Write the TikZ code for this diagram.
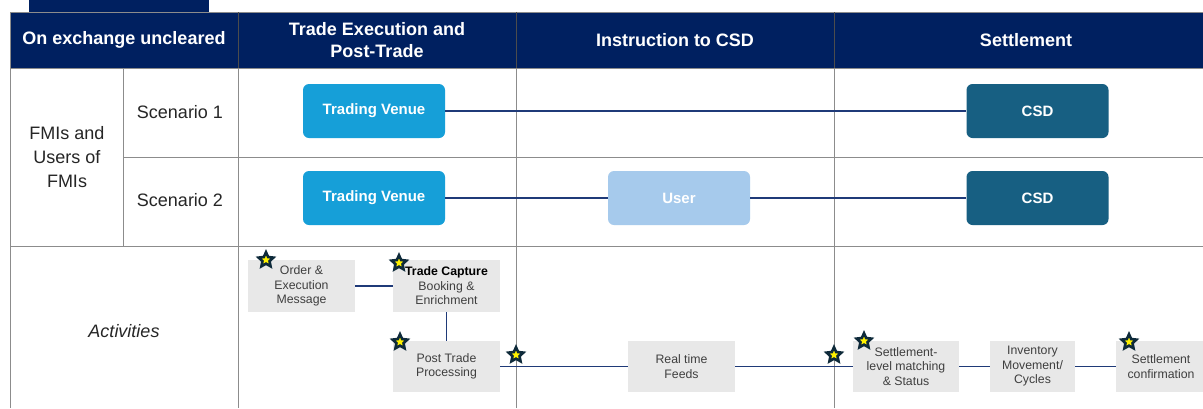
\documentclass[tikz,border=0pt]{standalone}
\usepackage{fontspec}
\setmainfont{Liberation Sans}
\usetikzlibrary{shapes.geometric}
\definecolor{navy}{HTML}{002060}
\definecolor{tvblue}{HTML}{169FD8}
\definecolor{csdblue}{HTML}{175F82}
\definecolor{userblue}{HTML}{A6CAEC}
\definecolor{actgray}{HTML}{E8E8E8}
\definecolor{conncol}{HTML}{1F3A78}
\definecolor{gridcol}{HTML}{8C8C8C}
\definecolor{stardark}{HTML}{0E2A3A}
\definecolor{acttext}{HTML}{3F3F3F}
\tikzset{
  hdr/.style={text=white, font=\fontsize{18}{22}\selectfont\bfseries, align=center},
  lbl/.style={text=black!85, font=\fontsize{18}{24}\selectfont, align=center},
  fmi/.style={rounded corners=6pt, minimum width=142pt, minimum height=54pt, inner sep=0pt,
     text=white, font=\fontsize{15}{17}\selectfont\bfseries},
  act/.style={fill=actgray, minimum width=107pt, minimum height=51pt, inner sep=0pt,
     text=acttext, align=center, font=\fontsize{12.3}{14.5}\selectfont},
  conn/.style={draw=conncol, line width=1.8pt},
  grid/.style={draw=gridcol, line width=0.9pt},
  starm/.style={star, star points=5, star point ratio=2.1, fill=yellow, draw=stardark,
     line width=2.6pt, minimum size=15.5pt, inner sep=0pt},
}
\begin{document}
\begin{tikzpicture}[x=1pt, y=-1pt]
\clip (0,0) rectangle (1203,408);
\fill[white] (0,0) rectangle (1203,408);
% top tab and header
\fill[navy] (29,0) rectangle (209,12);
\fill[navy] (10,12) rectangle (1215,68);
\draw[gridcol, line width=0.9pt] (10,12) -- (1215,12);
\draw[gridcol, line width=0.9pt] (10,68) -- (1215,68);
% grid
\draw[grid] (10,12) -- (10,408);
\draw[grid] (238,68) -- (238,408);
\draw[grid] (516,68) -- (516,408);
\draw[grid] (834,68) -- (834,408);
\draw[black!70, line width=0.7pt] (238,12) -- (238,68);
\draw[black!70, line width=0.7pt] (516,12) -- (516,68);
\draw[black!70, line width=0.7pt] (834,12) -- (834,68);
\draw[grid] (123,68) -- (123,246);
\draw[grid] (123,157) -- (1215,157);
\draw[grid] (10,246) -- (1215,246);
% header texts
\node[hdr] (h1) at (124,40) {On exchange uncleared};
\node[hdr] (h2) at (377,40) {Trade Execution and\\Post-Trade};
\node[hdr] (h3) at (675,40) {Instruction to CSD};
\node[hdr] (h4) at (1026,40) {Settlement};
% row labels
\node[lbl] (fmis) at (67,157) {FMIs and\\Users of\\FMIs};
\node[lbl] (sc1) at (180,112) {Scenario 1};
\node[lbl] (sc2) at (180,200) {Scenario 2};
\node[lbl, font=\fontsize{18}{22}\selectfont\itshape] (actl) at (124,331) {Activities};
% scenario boxes
\node[fmi, fill=tvblue] (tv1) at (374,111) {Trading Venue};
\node[fmi, fill=csdblue] (csd1) at (1037.5,111) {CSD};
\node[fmi, fill=tvblue] (tv2) at (374,198) {Trading Venue};
\node[fmi, fill=userblue] (user) at (679,198) {User};
\node[fmi, fill=csdblue] (csd2) at (1037.5,198) {CSD};
\draw[conn] (tv1.east) -- (csd1.west);
\draw[conn] (tv2.east) -- (user.west);
\draw[conn] (user.east) -- (csd2.west);
% activities
\node[act, minimum height=52pt] (ord) at (301.5,286) {Order \&\\Execution\\Message};
\node[act, minimum height=52pt] (tc) at (446.5,286) {\textbf{\color{black}Trade Capture}\\Booking \&\\Enrichment};
\node[act] (ptp) at (446.5,366.5) {Post Trade\\Processing};
\node[act] (rtf) at (681.5,366.5) {Real time\\Feeds};
\node[act, minimum width=106pt] (slm) at (906,366.5) {Settlement-\\level matching\\\& Status};
\node[act, minimum width=85pt] (inv) at (1032.5,366.5) {Inventory\\Movement/\\Cycles};
\node[act, minimum width=90pt] (scf) at (1161,366.5) {Settlement\\confirmation};
\draw[conn] (ord.east) -- (tc.west);
\draw[conn] (tc.south) -- (ptp.north);
\draw[conn] (ptp.east) -- (rtf.west);
\draw[conn] (rtf.east) -- (slm.west);
\draw[conn] (slm.east) -- (inv.west);
\draw[conn] (inv.east) -- (scf.west);
% stars
\node[starm] (s1) at (266,260) {};
\node[starm] (s2) at (399,263) {};
\node[starm] (s3) at (400,342) {};
\node[starm] (s4) at (516,355) {};
\node[starm] (s5) at (834,355) {};
\node[starm] (s6) at (864,341) {};
\node[starm] (s7) at (1129,342) {};
\end{tikzpicture}
\end{document}
